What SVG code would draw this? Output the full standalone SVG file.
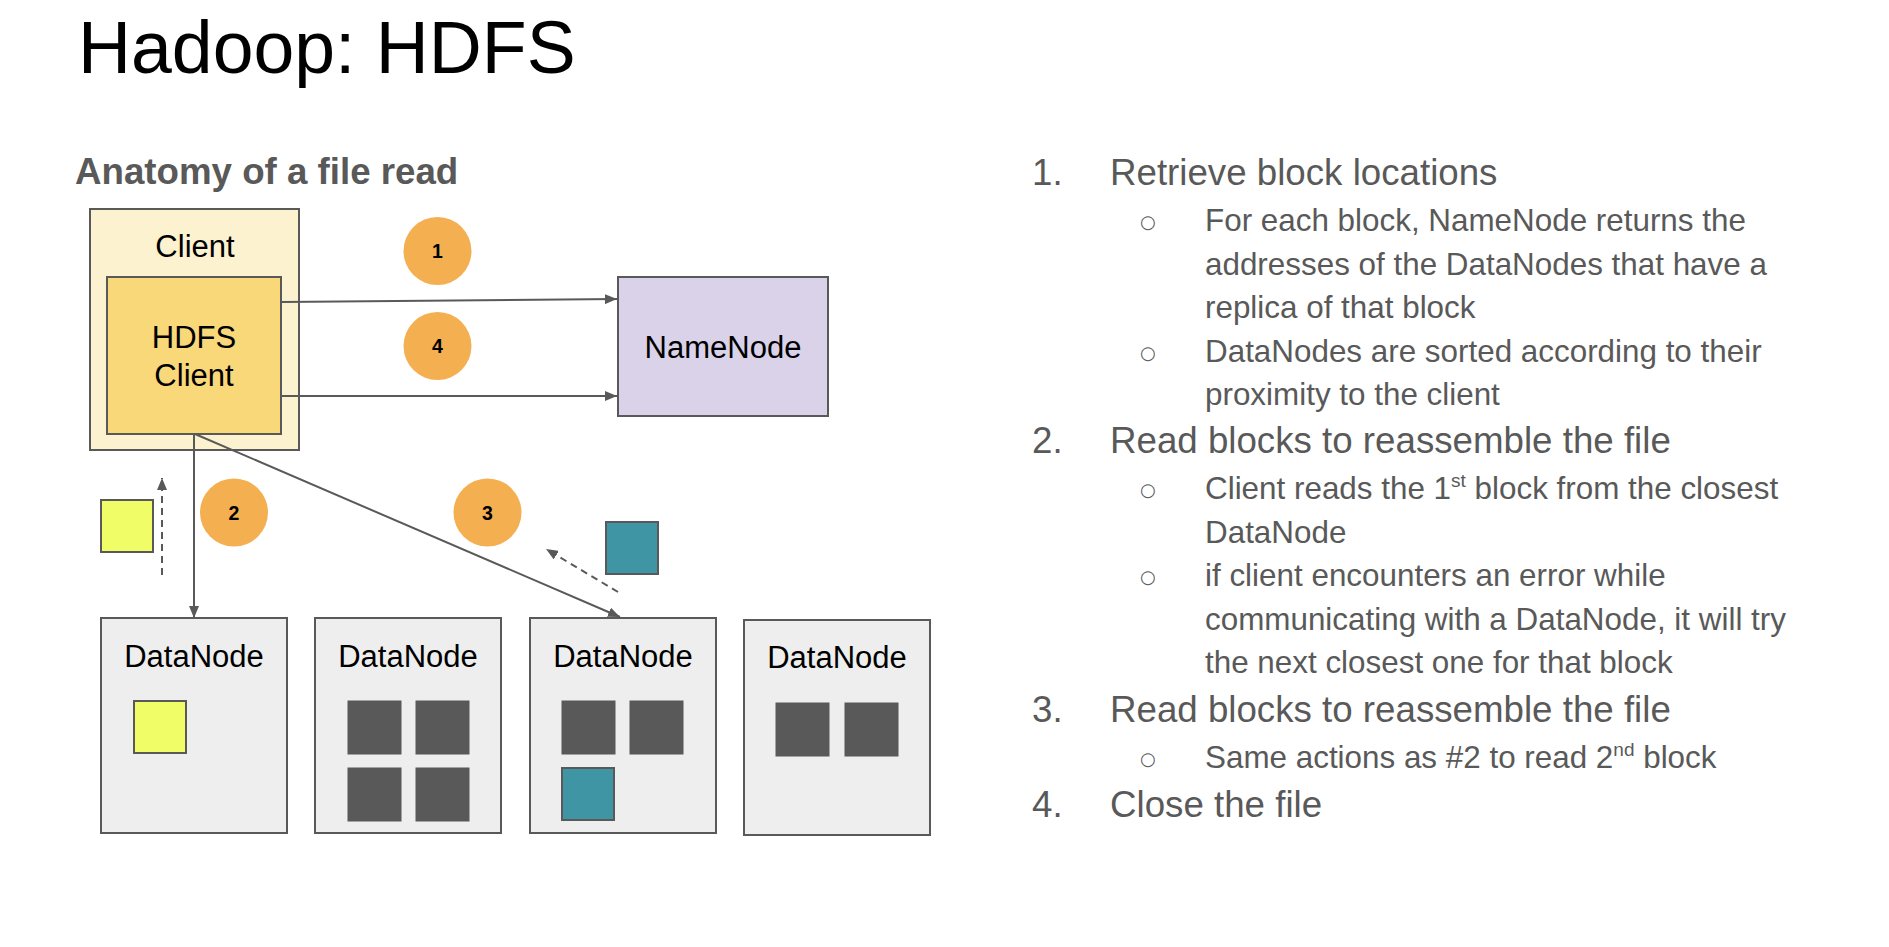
<svg xmlns="http://www.w3.org/2000/svg" width="1889" height="947" viewBox="0 0 1889 947">
  <style>
    .sans { font-family: "Liberation Sans", Arial, sans-serif; }
    .box { stroke: #595959; stroke-width: 2; }
    .label { font-family: "Liberation Sans", Arial, sans-serif; font-size: 31px; fill: #000; text-anchor: middle; }
    .step { fill: #f4af50; }
    .stepnum { font-family: "Liberation Sans", Arial, sans-serif; font-size: 19.5px; font-weight: bold; fill: #000; text-anchor: middle; }
    .blk { fill: #595959; stroke: #595959; stroke-width: 1; }
    .conn { stroke: #595959; stroke-width: 2; fill: none; }
    .dash { stroke-dasharray: 7 5; }
    .main { font-family: "Liberation Sans", Arial, sans-serif; font-size: 36.7px; fill: #595959; }
    .sub { font-family: "Liberation Sans", Arial, sans-serif; font-size: 31.4px; fill: #595959; }
    .bul { font-family: "DejaVu Sans", sans-serif; font-size: 18px; fill: #595959; }
  </style>
  <defs>
    <marker id="arrow" markerUnits="userSpaceOnUse" markerWidth="12" markerHeight="10" refX="12" refY="5" orient="auto">
      <path d="M0,0 L12,5 L0,10 z" fill="#595959"/>
    </marker>
  </defs>

  <rect width="1889" height="947" fill="#ffffff"/>

  <!-- headings -->
  <text class="sans" x="78" y="73" font-size="73.4" fill="#000">Hadoop: HDFS</text>
  <text class="sans" x="75" y="184" font-size="36.7" font-weight="bold" fill="#595959">Anatomy of a file read</text>

  <!-- client machine with embedded HDFS client -->
  <g id="client">
    <rect class="box" x="90" y="209" width="209" height="241" fill="#fdf2cf"/>
    <text class="label" x="195" y="257">Client</text>
  </g>
  <g id="hdfs-client">
    <rect class="box" x="107" y="277" width="174" height="157" fill="#f9d879"/>
    <text class="label" x="194" y="348">HDFS</text>
    <text class="label" x="194" y="386">Client</text>
  </g>

  <g id="namenode">
    <rect class="box" x="618" y="277" width="210" height="139" fill="#d9d2e9"/>
    <text class="label" x="723" y="358">NameNode</text>
  </g>

  <!-- data nodes and their blocks -->
  <g id="datanode-1">
    <rect class="box" x="101" y="618" width="186" height="215" fill="#eeeeee"/>
    <text class="label" x="194" y="667">DataNode</text>
    <rect x="134" y="701" width="52" height="52" fill="#f0fd66" stroke="#595959" stroke-width="2"/>
  </g>
  <g id="datanode-2">
    <rect class="box" x="315" y="618" width="186" height="215" fill="#eeeeee"/>
    <text class="label" x="408" y="667">DataNode</text>
    <rect class="blk" x="348" y="701" width="53" height="53"/>
    <rect class="blk" x="416" y="701" width="53" height="53"/>
    <rect class="blk" x="348" y="768" width="53" height="53"/>
    <rect class="blk" x="416" y="768" width="53" height="53"/>
  </g>
  <g id="datanode-3">
    <rect class="box" x="530" y="618" width="186" height="215" fill="#eeeeee"/>
    <text class="label" x="623" y="667">DataNode</text>
    <rect class="blk" x="562" y="701" width="53" height="53"/>
    <rect class="blk" x="630" y="701" width="53" height="53"/>
    <rect x="562" y="768" width="52" height="52" fill="#4095a5" stroke="#595959" stroke-width="2"/>
  </g>
  <g id="datanode-4">
    <rect class="box" x="744" y="620" width="186" height="215" fill="#eeeeee"/>
    <text class="label" x="837" y="668">DataNode</text>
    <rect class="blk" x="776" y="703" width="53" height="53"/>
    <rect class="blk" x="845" y="703" width="53" height="53"/>
  </g>

  <!-- blocks in transit -->
  <g id="block-yellow">
    <rect x="101" y="500" width="52" height="52" fill="#f0fd66" stroke="#595959" stroke-width="2"/>
  </g>
  <g id="block-teal">
    <rect x="606" y="522" width="52" height="52" fill="#4095a5" stroke="#595959" stroke-width="2"/>
  </g>

  <!-- connectors -->
  <g id="connectors">
    <line class="conn" x1="282" y1="302" x2="617" y2="299" marker-end="url(#arrow)"/>
    <line class="conn" x1="282" y1="396" x2="617" y2="396" marker-end="url(#arrow)"/>
    <line class="conn" x1="194" y1="434" x2="194" y2="618" marker-end="url(#arrow)"/>
    <line class="conn" x1="195" y1="434" x2="620" y2="617" marker-end="url(#arrow)"/>
    <line class="conn dash" x1="162" y1="575" x2="162" y2="478" marker-end="url(#arrow)"/>
    <line class="conn dash" x1="618" y1="592" x2="546" y2="549" marker-end="url(#arrow)"/>
  </g>

  <!-- step markers -->
  <g id="step-1">
    <circle class="step" cx="437.5" cy="251" r="34"/>
    <text class="stepnum" x="437.5" y="258">1</text>
  </g>
  <g id="step-4">
    <circle class="step" cx="437.5" cy="346" r="34"/>
    <text class="stepnum" x="437.5" y="353">4</text>
  </g>
  <g id="step-2">
    <circle class="step" cx="234" cy="512.5" r="34"/>
    <text class="stepnum" x="234" y="519.5">2</text>
  </g>
  <g id="step-3">
    <circle class="step" cx="487.5" cy="512.5" r="34"/>
    <text class="stepnum" x="487.5" y="519.5">3</text>
  </g>

  <!-- step list -->
  <g id="steps-text">
    <text class="main" x="1032" y="184.5">1.</text>
    <text class="main" x="1110" y="184.5">Retrieve block locations</text>
    <text class="bul" x="1140" y="228">○</text>
    <text class="sub" x="1205" y="231">For each block, NameNode returns the</text>
    <text class="sub" x="1205" y="274.5">addresses of the DataNodes that have a</text>
    <text class="sub" x="1205" y="318">replica of that block</text>
    <text class="bul" x="1140" y="358.5">○</text>
    <text class="sub" x="1205" y="361.5">DataNodes are sorted according to their</text>
    <text class="sub" x="1205" y="405">proximity to the client</text>

    <text class="main" x="1032" y="453">2.</text>
    <text class="main" x="1110" y="453">Read blocks to reassemble the file</text>
    <text class="bul" x="1140" y="496">○</text>
    <text class="sub" x="1205" y="499">Client reads the 1<tspan font-size="19" dy="-12">st</tspan><tspan dy="12"> block from the closest</tspan></text>
    <text class="sub" x="1205" y="542.5">DataNode</text>
    <text class="bul" x="1140" y="583">○</text>
    <text class="sub" x="1205" y="586">if client encounters an error while</text>
    <text class="sub" x="1205" y="629.5">communicating with a DataNode, it will try</text>
    <text class="sub" x="1205" y="673">the next closest one for that block</text>

    <text class="main" x="1032" y="722">3.</text>
    <text class="main" x="1110" y="722">Read blocks to reassemble the file</text>
    <text class="bul" x="1140" y="765">○</text>
    <text class="sub" x="1205" y="768">Same actions as #2 to read 2<tspan font-size="19" dy="-12">nd</tspan><tspan dy="12"> block</tspan></text>

    <text class="main" x="1032" y="817">4.</text>
    <text class="main" x="1110" y="817">Close the file</text>
  </g>
</svg>
